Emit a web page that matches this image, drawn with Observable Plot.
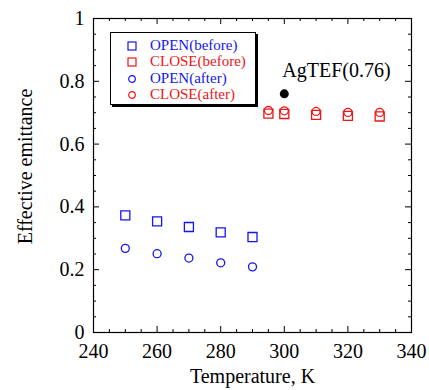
<!DOCTYPE html>
<html>
<head>
<meta charset="utf-8">
<script src="https://cdn.jsdelivr.net/npm/d3@7"></script>
<script src="https://cdn.jsdelivr.net/npm/@observablehq/plot@0.6"></script>
<style>
  html, body { margin: 0; padding: 0; background: #fff; }
  #wrap, #wrap * { font-family: "Liberation Serif", "Times New Roman", serif !important; }
  #wrap { position: relative; width: 429px; height: 390px; }
  #legend { position: absolute; left: 110px; top: 32px; width: 144px; height: 71px;
    border: 1px solid #000; box-shadow: 2px 2px 0 #000; background: #fff; }
  .row { position: absolute; left: 0; height: 16px; font-size: 15px; line-height: 16px; white-space: nowrap; }
  .row svg { position: absolute; left: 16px; top: 3px; }
  .row span { position: absolute; left: 39px; top: -1px; }
</style>
</head>
<body>
<div id="wrap"></div>
<script>
// ---- data ----
const openT = [250, 260, 270, 280, 290];
const openBefore = [0.373, 0.354, 0.336, 0.319, 0.304];
const openAfter = [0.268, 0.251, 0.237, 0.222, 0.209];
const closeT = [295, 300, 310, 320, 330];
const closeBefore = [0.697, 0.696, 0.693, 0.690, 0.688];
const closeAfter = [0.707, 0.706, 0.704, 0.701, 0.701];
const refPoint = [{T: 300, e: 0.76, label: "AgTEF(0.76)"}];
const xMajor = [240, 260, 280, 300, 320, 340];
const xMinor = [245,250,255,265,270,275,285,290,295,305,310,315,325,330,335];
const yMajor = [0, 0.2, 0.4, 0.6, 0.8, 1];
const yMinor = [0.05,0.1,0.15,0.25,0.3,0.35,0.45,0.5,0.55,0.65,0.7,0.75,0.85,0.9,0.95];
const seriesNames = ["OPEN(before)", "CLOSE(before)", "OPEN(after)", "CLOSE(after)"];
const seriesColors = ["#1515ee", "#ee1515", "#1515ee", "#ee1515"];
const seriesSymbols = ["square", "square", "circle", "circle"];

const toRows = (T, v) => T.map((t, i) => ({T: t, e: v[i]}));

// ---- layout ----
const W = 429, H = 390, mL = 93, mR = 18, mT = 18, mB = 58;
const pw = W - mL - mR, ph = H - mT - mB;
const font = "Liberation Serif";

const chart = Plot.plot({
  width: W, height: H,
  marginLeft: mL, marginRight: mR, marginTop: mT, marginBottom: mB,
  style: {fontFamily: font, fontSize: "20px", color: "#000", background: "#fff"},
  x: {domain: [240, 340]},
  y: {domain: [0, 1]},
  marks: [
    Plot.axisX(xMajor, {tickSize: 0, tickPadding: 11, label: null, fontSize: 20}),
    Plot.axisY(yMajor, {tickSize: 0, tickPadding: 9, label: null, fontSize: 20, tickFormat: d => String(d)}),
    // inward ticks
    Plot.ruleX(xMajor, {insetTop: ph - 6, stroke: "#000"}),
    Plot.ruleX(xMajor, {insetBottom: ph - 6, stroke: "#000"}),
    Plot.ruleX(xMinor, {insetTop: ph - 3, stroke: "#000"}),
    Plot.ruleX(xMinor, {insetBottom: ph - 3, stroke: "#000"}),
    Plot.ruleY(yMajor, {insetRight: pw - 6, stroke: "#000"}),
    Plot.ruleY(yMajor, {insetLeft: pw - 6, stroke: "#000"}),
    Plot.ruleY(yMinor, {insetRight: pw - 3, stroke: "#000"}),
    Plot.ruleY(yMinor, {insetLeft: pw - 3, stroke: "#000"}),
    Plot.frame({stroke: "#000", strokeWidth: 1.2}),
    // data
    Plot.dot(toRows(openT, openBefore), {x: "T", y: "e", symbol: "square", r: 5.1, stroke: seriesColors[0], strokeWidth: 1.3}),
    Plot.dot(toRows(openT, openAfter), {x: "T", y: "e", symbol: "circle", r: 4, stroke: seriesColors[2], strokeWidth: 1.3}),
    Plot.dot(toRows(closeT, closeBefore), {x: "T", y: "e", symbol: "square", r: 5.1, stroke: seriesColors[1], strokeWidth: 1.3}),
    Plot.dot(toRows(closeT, closeAfter), {x: "T", y: "e", symbol: "circle", r: 4, stroke: seriesColors[3], strokeWidth: 1.3}),
    Plot.dot(refPoint, {x: "T", y: "e", r: 4.5, fill: "#000"}),
    Plot.text(refPoint, {x: "T", y: "e", text: "label", textAnchor: "start", lineAnchor: "bottom", dx: -2, dy: -17, fontSize: 20, fill: "#000"}),
    // axis titles
    Plot.text(["Temperature, K"], {frameAnchor: "bottom", textAnchor: "middle", lineAnchor: "bottom", dy: 50, fontSize: 20, fill: "#000"}),
    Plot.text(["Effective emittance"], {frameAnchor: "left", textAnchor: "middle", lineAnchor: "middle", rotate: -90, dx: -68, dy: -9, fontSize: 20, fill: "#000"})
  ]
});

const wrap = document.getElementById("wrap");
wrap.appendChild(chart);

// legend
const legend = document.createElement("div");
legend.id = "legend";
seriesNames.forEach((name, i) => {
  const row = document.createElement("div");
  row.className = "row";
  row.style.top = (5 + i * 16.3) + "px";
  const sym = seriesSymbols[i] === "square"
    ? `<rect x="1" y="1" width="8" height="8" fill="none" stroke="${seriesColors[i]}" stroke-width="1.2"/>`
    : `<circle cx="5" cy="5" r="3.3" fill="none" stroke="${seriesColors[i]}" stroke-width="1.2"/>`;
  row.innerHTML = `<svg width="10" height="10">${sym}</svg><span style="color:${seriesColors[i]}">${name}</span>`;
  legend.appendChild(row);
});
wrap.appendChild(legend);
</script>
</body>
</html>
